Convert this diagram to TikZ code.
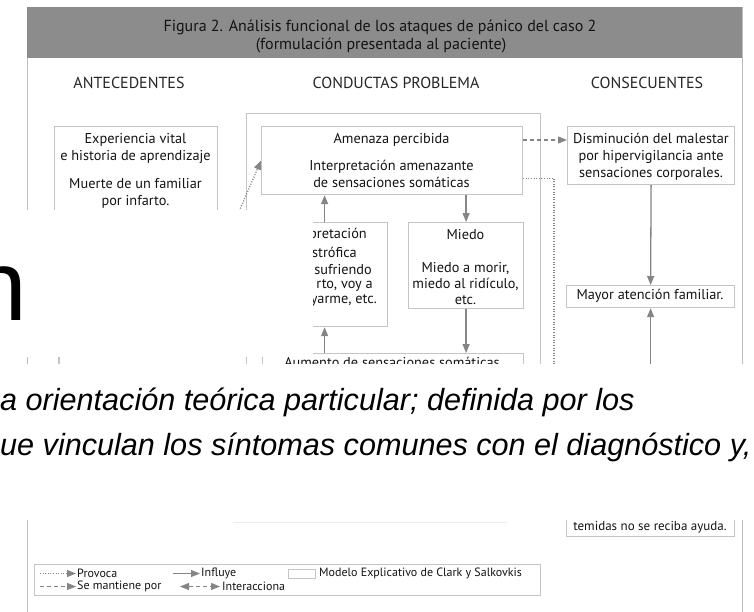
\documentclass[tikz,border=0pt]{standalone}
\usepackage{fontspec}
\setmainfont{PT Sans}
\newfontfamily\bigfont{Liberation Sans}
\usetikzlibrary{arrows.meta,calc}
\definecolor{hdr}{HTML}{8C8C8C}
\definecolor{boxc}{HTML}{C4C4C4}
\definecolor{framec}{HTML}{BDBDBD}
\definecolor{arrc}{HTML}{858585}
\definecolor{txt}{HTML}{141414}
\tikzset{
  bx/.style={draw=boxc, line width=1.2pt, inner sep=0pt, anchor=north west},
  tx/.style={text=txt, inner sep=0pt, align=center, font=\fontsize{14.3}{17}\selectfont},
  txs/.style={text=txt, inner sep=0pt, align=center, font=\fontsize{14.3}{16}\selectfont},
  hd/.style={text=txt, inner sep=0pt, font=\fontsize{16}{18}\selectfont},
  lg/.style={text=txt, inner sep=0pt, anchor=west, font=\fontsize{12}{13}\selectfont},
  arr/.style={draw=arrc, line width=1.3pt, -{Triangle[length=9pt,width=7pt]}, arrc},
  dotln/.style={draw=arrc, line width=1.1pt, dash pattern=on 1pt off 1.6pt},
  dashln/.style={dash pattern=on 4pt off 3pt},
}
\begin{document}
\begin{tikzpicture}[x=1pt,y=-1pt]
\useasboundingbox (0,0) rectangle (754,611);
\fill[white] (0,0) rectangle (754,611);
% frame and header
\draw[framec, line width=1pt] (27,7) rectangle (742,640);
\fill[hdr] (27,7) rectangle (742,58);
\node[hd] (title1) at (380,27) {Figura 2. Análisis funcional de los ataques de pánico del caso 2};
\node[hd] (title2) at (381,45) {(formulación presentada al paciente)};
\node[hd, text=black!85] (colA) at (129,83) {ANTECEDENTES};
\node[hd, text=black!85] (colB) at (396,83) {CONDUCTAS PROBLEMA};
\node[hd, text=black!85] (colC) at (647,83) {CONSECUENTES};
% boxes
\node[bx, minimum width=294pt, minimum height=380pt] (clark) at (246,113) {};
\node[bx, minimum width=163pt, minimum height=130pt] (exp) at (54,126) {};
\node[bx, minimum width=261pt, minimum height=68pt] (amen) at (261,126) {};
\node[bx, minimum width=167pt, minimum height=58pt] (dism) at (567,126) {};
\node[bx, minimum width=126pt, minimum height=104pt] (interp) at (261,222) {};
\node[bx, minimum width=115pt, minimum height=86pt] (miedo) at (408,222) {};
\node[bx, minimum width=261pt, minimum height=40pt] (aum) at (262,353) {};
\node[bx, minimum width=168pt, minimum height=22pt] (mayor) at (566,285) {};
\node[bx, minimum width=168pt, minimum height=56pt] (temidas) at (566,480) {};
\node[bx, minimum width=506pt, minimum height=31pt] (legend) at (34,564) {};
\draw[boxc, line width=1.2pt] (59,340) -- (59,390);
% texts in boxes
\node[tx] (expT1) at (135.5,148.5) {Experiencia vital\\e historia de aprendizaje};
\node[tx] (expT2) at (135.5,193.5) {Muerte de un familiar\\por infarto.};
\node[tx] (amT1) at (391.5,140) {Amenaza percibida};
\node[tx] (amT2) at (391.5,173.5) {Interpretación amenazante\\de sensaciones somáticas};
\node[tx] (diT) at (651,157) {Disminución del malestar\\por hipervigilancia ante\\sensaciones corporales.};
\node[tx, anchor=east] (inT1) at (367,235) {pretación};
\node[tx, anchor=east] (inT2) at (357,252) {strófica};
\node[tx, anchor=east] (inT3) at (372,270) {sufriendo};
\node[tx, anchor=east] (inT4) at (373,285.5) {rto, voy a};
\node[tx, anchor=east] (inT5) at (377,301) {yarme, etc.};
\node[tx] (miT1) at (465.5,235) {Miedo};
\node[txs] (miT2) at (465.5,284) {Miedo a morir,\\miedo al ridículo,\\etc.};
\node[tx] (maT) at (650,296) {Mayor atención familiar.};
\node[tx, anchor=base] (auT) at (392,367) {Aumento de sensaciones somáticas};
\node[tx, font=\fontsize{13}{15}\selectfont] (teT) at (650,527) {temidas no se reciba ayuda.};
% connectors
\coordinate (provs) at (231,230);
\coordinate (dotend) at (554,440);
\draw[arr, dash pattern=on 1pt off 1.6pt] (provs) -- (amen.west);
\draw[arr] (interp.north) -- (interp.north |- amen.south);
\draw[arr] (miedo.north |- amen.south) -- (miedo.north);
\draw[arr] (miedo.south) -- (miedo.south |- aum.north);
\draw[arr] (interp.south |- aum.north) -- (interp.south);
\draw[arr, dashln] ([yshift=-14pt]amen.north east) -- ([yshift=-14pt]dism.north west);
\draw[dotln] ([yshift=17pt]amen.south east) -| (dotend);
\draw[arr] (dism.south) -- (mayor.north);
\draw[arr] (temidas.north) -- (mayor.south);
% legend
\coordinate (l1a) at (40,573.5); \coordinate (l1b) at (76,573.5);
\coordinate (l2a) at (173,573.5); \coordinate (l2b) at (200,573.5);
\coordinate (l3a) at (40,586.5); \coordinate (l3b) at (76,586.5);
\coordinate (l4a) at (180,586.5); \coordinate (l4b) at (220,586.5);
\draw[arr, dash pattern=on 1pt off 1.6pt, line width=1pt] (l1a) -- (l1b);
\draw[arr, line width=1pt] (l2a) -- (l2b);
\draw[arr, dashln, line width=1pt] (l3a) -- (l3b);
\draw[arr, dashln, line width=1pt, {Triangle[length=9pt,width=7pt]}-{Triangle[length=9pt,width=7pt]}] (l4a) -- (l4b);
\node[bx, minimum width=27pt, minimum height=9pt] (lrect) at (288,569) {};
\node[lg] (lgP) at (77,573.5) {Provoca};
\node[lg] (lgI) at (201,573.5) {Influye};
\node[lg] (lgM) at (319,573.5) {Modelo Explicativo de Clark y Salkovkis};
\node[lg] (lgS) at (77,586.5) {Se mantiene por};
\node[lg] (lgN) at (222,586.5) {Interacciona};
\draw[black!7, line width=0.8pt] (233,522) -- (507,522);
% covers
\fill[white] (0,209.5) rectangle (313,357);
\fill[white] (0,363.5) rectangle (754,520);
% overlay texts
\node[anchor=base west, inner sep=0pt, font=\bigfont\fontsize{100}{100}\selectfont] (bign) at (-28.7,320) {n};
\node[anchor=base west, inner sep=0pt, font=\bigfont\itshape\fontsize{30.6}{36}\selectfont] (it1) at (0,410) {a orientación teórica particular; definida por los};
\node[anchor=base west, inner sep=0pt, font=\bigfont\itshape\fontsize{30.6}{36}\selectfont] (it2) at (0,455) {ue vinculan los síntomas comunes con el diagnóstico y,};
\end{tikzpicture}
\end{document}
